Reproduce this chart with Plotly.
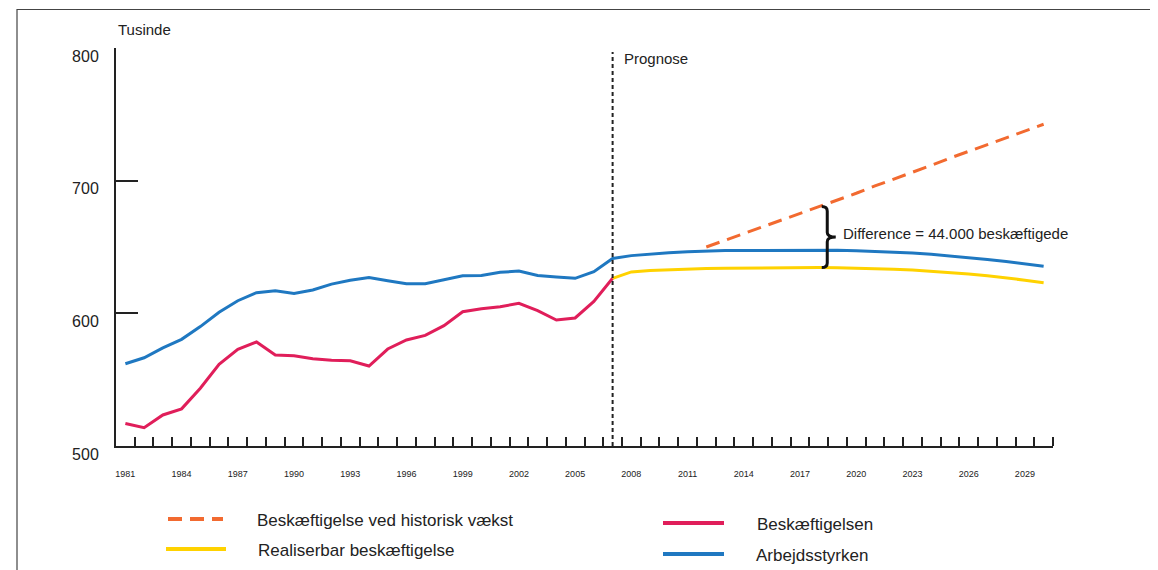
import plotly.graph_objects as go

# ---------------- data ----------------
years = list(range(1981, 2031))
hist_years = list(range(1981, 2008))
prog_years = list(range(2007, 2031))
trend_years = list(range(2012, 2031))

arbejdsstyrken = [562, 566.5, 574, 580.4, 590, 600.8, 609.5, 615.6, 617, 615,
                  617.6, 622, 625, 627, 624.6, 622.3, 622.3, 625.6, 628.4, 628.6,
                  630.9, 631.9, 628.6, 627.4, 626.4, 631.4, 641.4,
                  643.5, 644.8, 645.7, 646.5, 647, 647.3, 647.4, 647.5, 647.6, 647.7,
                  647.7, 647.5, 647.2, 646.8, 646.2, 645.5, 644.5, 643.3, 642, 640.5,
                  639, 637.3, 635.5]
beskaeftigelsen = [517, 513.8, 523.4, 528, 543.5, 561.6, 572.9, 578.4, 568.6, 568.1,
                   565.8, 564.6, 564.3, 560.3, 573.1, 579.9, 583.4, 590.7, 601.2, 603.5,
                   605, 607.5, 602, 595, 596.5, 609, 626.4]
realiserbar = [626.4, 631.2, 632.2, 632.8, 633.3, 633.7, 634, 634.2, 634.3, 634.4,
               634.5, 634.5, 634.4, 634.2, 633.8, 633.3, 632.7, 631.8, 630.8, 629.7,
               628.3, 626.8, 625, 623]
historisk_vaekst = [650, 655, 660, 665.5, 670.5, 675.5, 680.5, 685.5, 690.5, 696,
                    701, 706.5, 711.5, 717, 722, 727, 732.5, 737.5, 742.5]

x_labels = list(range(1981, 2030, 3))
y_ticks = [500, 600, 700, 800]
prognose_year = 2007
diff_year = 2018

ORANGE = "#f26a30"
YELLOW = "#ffd200"
RED = "#e01e5a"
BLUE = "#1f78c1"
AX = "#222222"
FONT = "Liberation Sans, Arial, sans-serif"

fig = go.Figure()
fig.add_trace(go.Scatter(x=hist_years, y=beskaeftigelsen, mode="lines",
                         line=dict(color=RED, width=3), name="Beskæftigelsen"))
fig.add_trace(go.Scatter(x=prog_years, y=realiserbar, mode="lines",
                         line=dict(color=YELLOW, width=3), name="Realiserbar beskæftigelse"))
fig.add_trace(go.Scatter(x=years, y=arbejdsstyrken, mode="lines",
                         line=dict(color=BLUE, width=3), name="Arbejdsstyrken"))
fig.add_trace(go.Scatter(x=trend_years, y=historisk_vaekst, mode="lines",
                         line=dict(color=ORANGE, width=3, dash="14px,8px"),
                         name="Beskæftigelse ved historisk vækst"))

# page geometry (the page body has an 8px margin)
OFF = 8
PAGE_W, PAGE_H = 1158, 570
W, H = PAGE_W - OFF, PAGE_H - OFF
plot_left, plot_right, plot_top, plot_bottom = 116, 1053, 48, 446  # page pixels
L = plot_left - OFF
R = PAGE_W - plot_right
T = plot_top - OFF
B = PAGE_H - plot_bottom
pw, ph = plot_right - plot_left, plot_bottom - plot_top


def px(xp):
    return (xp - plot_left) / pw


def py(yp):
    return (plot_bottom - yp) / ph


shapes = []
annotations = []

# outer frame
shapes.append(dict(type="rect", xref="paper", yref="paper",
                   x0=px(17), x1=px(1152), y0=py(600), y1=py(9.5),
                   line=dict(color="#444444", width=1.2), fillcolor="rgba(0,0,0,0)"))

# prognosis line
shapes.append(dict(type="line", xref="x", yref="y", x0=prognose_year, x1=prognose_year,
                   y0=500, y1=797, line=dict(color=AX, width=2, dash="4px,3px")))
annotations.append(dict(text="Prognose", x=prognose_year, xref="x", y=py(58), yref="paper",
                        xanchor="left", yanchor="middle", xshift=9, showarrow=False,
                        font=dict(size=15, color=AX, family=FONT)))

# brace between trend and realiserbar
i_tr = trend_years.index(diff_year)
i_re = prog_years.index(diff_year)
top = historisk_vaekst[i_tr]
bot = realiserbar[i_re]
mid = (top + bot) / 2
c = 3.5
path = (f"M3,{top} Q8.5,{top} 8.5,{top - c} L8.5,{mid + c} Q8.5,{mid} 17,{mid} "
        f"Q8.5,{mid} 8.5,{mid - c} L8.5,{bot + c} Q8.5,{bot} 3,{bot}")
shapes.append(dict(type="path", xref="x", yref="y", xsizemode="pixel", xanchor=diff_year,
                   path=path, line=dict(color="#111111", width=3)))
annotations.append(dict(text="Difference = 44.000 beskæftigede", x=diff_year, xref="x",
                        y=mid, yref="y", xanchor="left", yanchor="middle", xshift=22,
                        yshift=4, showarrow=False,
                        font=dict(size=15, color=AX, family=FONT)))

# y-axis title
annotations.append(dict(text="Tusinde", x=px(116), y=py(30), xref="paper", yref="paper",
                        xanchor="left", yanchor="middle", showarrow=False,
                        font=dict(size=15, color=AX, family=FONT)))

# manual legend
legend_items = [
    ("Beskæftigelse ved historisk vækst", ORANGE, "14px,8px", 168, 223, 519, 255),
    ("Realiserbar beskæftigelse", YELLOW, "solid", 166, 226, 549, 256),
    ("Beskæftigelsen", RED, "solid", 663, 724, 523, 755),
    ("Arbejdsstyrken", BLUE, "solid", 663, 724, 554, 754),
]
for label, col, dash, x0, x1, yy, tx in legend_items:
    shapes.append(dict(type="line", xref="paper", yref="paper",
                       x0=px(x0), x1=px(x1), y0=py(yy), y1=py(yy),
                       line=dict(color=col, width=4, dash=dash)))
    annotations.append(dict(text=label, x=px(tx), y=py(yy + 1), xref="paper", yref="paper",
                            xanchor="left", yanchor="middle", showarrow=False,
                            font=dict(size=17, color=AX, family=FONT)))

fig.update_layout(
    width=W, height=H,
    margin=dict(l=L, r=R, t=T, b=B, pad=0),
    paper_bgcolor="white", plot_bgcolor="white",
    showlegend=False,
    shapes=shapes, annotations=annotations,
    font=dict(family=FONT, color=AX),
    xaxis=dict(range=[1980.5, 2030.5], tickmode="array", tickvals=x_labels,
               ticktext=[str(v) for v in x_labels], ticks="", showgrid=False,
               zeroline=False, showline=True, linecolor=AX, linewidth=2,
               tickfont=dict(size=9, color=AX, family=FONT), ticklabelstandoff=18,
               minor=dict(tickmode="array", tickvals=[y + 0.5 for y in years],
                          ticks="inside", ticklen=9, tickwidth=2, tickcolor=AX,
                          showgrid=False)),
    yaxis=dict(range=[500, 800], tickmode="array", tickvals=y_ticks, ticks="inside",
               ticklen=22, tickwidth=2, tickcolor=AX, showgrid=False, zeroline=False,
               showline=True, linecolor=AX, linewidth=2,
               tickfont=dict(size=16, color=AX, family=FONT), ticklabelstandoff=12,
               ticklabelshift=8),
)

fig.write_html("out.html")
